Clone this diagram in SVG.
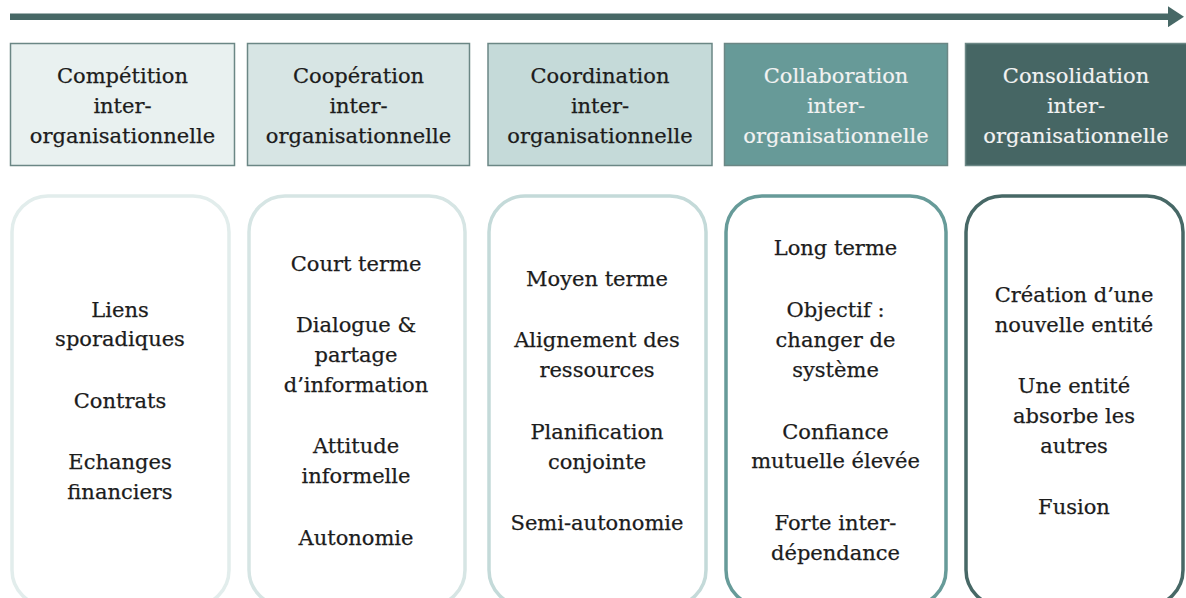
<svg xmlns="http://www.w3.org/2000/svg" width="1186" height="598" viewBox="0 0 1186 598">
<defs>
<style>
text{font-family:"DejaVu Serif","Liberation Serif",serif;font-size:21px;text-anchor:middle;fill:#1c1c1c;stroke:#1c1c1c;stroke-width:0.25}
.hd{stroke:#6b8785;stroke-width:1.5}
.lt text{fill:#f2f2f2;stroke:#f2f2f2;stroke-width:0.15}
.card{fill:#fff;stroke-width:3.5}
</style>
<marker id="ah" viewBox="0 0 16 21" refX="0" refY="10.5" markerWidth="16" markerHeight="21" markerUnits="userSpaceOnUse" orient="auto">
<path d="M0,0 L16,10.5 L0,21 Z" fill="#476866"/>
</marker>
</defs>
<rect width="1186" height="598" fill="#fff"/>
<g id="connectors">
<line x1="10" y1="16.7" x2="1168" y2="16.7" stroke="#476866" stroke-width="6.5" marker-end="url(#ah)"/>
</g>
<g id="h1"><rect class="hd" x="10.5" y="43.5" width="224" height="122" fill="#e9f1f0"/>
<text x="122.5" y="83">Compétition</text><text x="122.5" y="113">inter-</text><text x="122.5" y="143">organisationnelle</text></g>
<g id="h2"><rect class="hd" x="247.5" y="43.5" width="222" height="122" fill="#d7e5e4"/>
<text x="358.5" y="83">Coopération</text><text x="358.5" y="113">inter-</text><text x="358.5" y="143">organisationnelle</text></g>
<g id="h3"><rect class="hd" x="488" y="43.5" width="224" height="122" fill="#c5dad9"/>
<text x="600" y="83">Coordination</text><text x="600" y="113">inter-</text><text x="600" y="143">organisationnelle</text></g>
<g id="h4" class="lt"><rect class="hd" x="724.5" y="43.5" width="223" height="122" fill="#679a98"/>
<text x="836" y="83">Collaboration</text><text x="836" y="113">inter-</text><text x="836" y="143">organisationnelle</text></g>
<g id="h5" class="lt"><rect class="hd" x="965.5" y="43.5" width="222" height="122" fill="#466664"/>
<text x="1076" y="83">Consolidation</text><text x="1076" y="113">inter-</text><text x="1076" y="143">organisationnelle</text></g>
<g id="c1"><rect class="card" x="12" y="196" width="217" height="410" rx="36" stroke="#e2edec"/>
<text x="120" y="316.5">Liens</text><text x="120" y="346">sporadiques</text><text x="120" y="408">Contrats</text><text x="120" y="468.5">Echanges</text><text x="120" y="498.5">financiers</text></g>
<g id="c2"><rect class="card" x="249" y="196" width="216" height="410" rx="36" stroke="#d6e5e4"/>
<text x="356" y="271">Court terme</text><text x="356" y="331.5">Dialogue &amp;</text><text x="356" y="361.5">partage</text><text x="356" y="391.5">d’information</text><text x="356" y="453">Attitude</text><text x="356" y="483">informelle</text><text x="356" y="545">Autonomie</text></g>
<g id="c3"><rect class="card" x="489" y="196" width="217" height="410" rx="36" stroke="#c4dad9"/>
<text x="597" y="286">Moyen terme</text><text x="597" y="347">Alignement des</text><text x="597" y="377">ressources</text><text x="597" y="438.5">Planification</text><text x="597" y="468.5">conjointe</text><text x="597" y="529.5">Semi-autonomie</text></g>
<g id="c4"><rect class="card" x="726" y="196" width="220" height="410" rx="36" stroke="#679b99"/>
<text x="835.5" y="255">Long terme</text><text x="835.5" y="316.5">Objectif :</text><text x="835.5" y="346.5">changer de</text><text x="835.5" y="376.5">système</text><text x="835.5" y="438.5">Confiance</text><text x="835.5" y="467.5">mutuelle élevée</text><text x="835.5" y="529.5">Forte inter-</text><text x="835.5" y="559.5">dépendance</text></g>
<g id="c5"><rect class="card" x="966" y="196" width="217" height="410" rx="36" stroke="#476866"/>
<text x="1074" y="301.5">Création d’une</text><text x="1074" y="331.5">nouvelle entité</text><text x="1074" y="393">Une entité</text><text x="1074" y="423">absorbe les</text><text x="1074" y="453">autres</text><text x="1074" y="513.5">Fusion</text></g>
</svg>
